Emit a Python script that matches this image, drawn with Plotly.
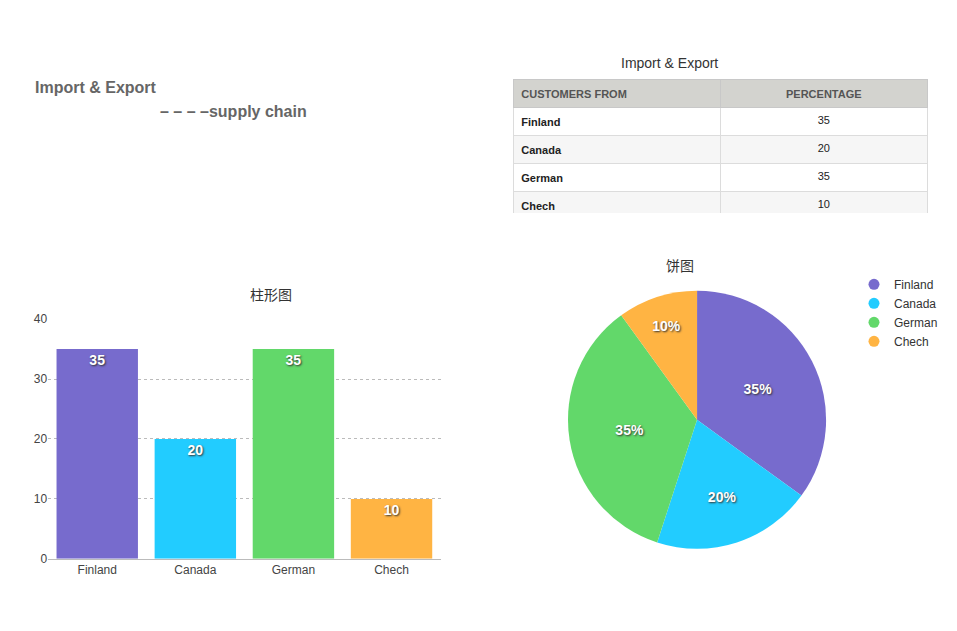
import plotly.graph_objects as go

countries = ["Finland", "Canada", "German", "Chech"]
values = [35, 20, 35, 10]
colors = ["#776bcd", "#22ccff", "#62d86a", "#ffb443"]
header = ["CUSTOMERS FROM", "PERCENTAGE"]

font = "Helvetica, Arial, Liberation Sans, Noto Sans CJK SC, sans-serif"
shadow = "1px 1px 2px #333"

fig = go.Figure()

fig.add_trace(go.Bar(
    x=countries, y=values, marker=dict(color=colors, line=dict(width=0)),
    text=values, textposition="inside", insidetextanchor="end",
    textfont=dict(color="white", size=14, family=font, weight="bold", shadow=shadow),
    width=0.83, showlegend=False, xaxis="x", yaxis="y",
))

fig.add_trace(go.Pie(
    labels=countries, values=values, marker=dict(colors=colors),
    sort=False, direction="clockwise", rotation=0, showlegend=False,
    texttemplate="%{percent:.0%}", textposition="inside",
    textfont=dict(color="white", size=14, family=font, weight="bold", shadow=shadow),
    domain=dict(x=[0.585, 0.855], y=[0.143, 0.552]),
))

# legend entries with round markers
for c, col in zip(countries, colors):
    fig.add_trace(go.Scatter(
        x=[None], y=[None], mode="markers", name=c,
        marker=dict(symbol="circle", size=11, color=col), xaxis="x2", yaxis="y2",
    ))

fig.add_trace(go.Table(
    domain=dict(x=[0.528, 0.961], y=[0.675, 0.886]),
    columnwidth=[0.5, 0.5],
    header=dict(values=["<b>%s</b>" % h for h in header], fill_color="#d3d3cf",
                font=dict(color="#555", size=11, family=font), align=["left", "center"],
                height=24, line=dict(color="#c8c8c8", width=1)),
    cells=dict(values=[["<b>%s</b>" % c for c in countries], values],
               fill_color=[["white", "#f6f6f6"] * 2],
               font=dict(color="#222", size=11, family=font), align=["left", "center"],
               height=24, line=dict(color="#dcdcdc", width=1)),
))

fig.update_layout(
    width=957, height=631, paper_bgcolor="white", plot_bgcolor="white",
    margin=dict(l=0, r=0, t=0, b=0, pad=0, autoexpand=False),
    font=dict(family=font, color="#444"),
    xaxis=dict(domain=[0.042, 0.452], showline=True, linecolor="#bbb",
               tickfont=dict(size=12, color="#444"), ticks=""),
    yaxis=dict(domain=[0.127, 0.507], range=[0, 40], dtick=10,
               gridcolor="#bbb", griddash="dot", zeroline=False,
               tickfont=dict(size=12, color="#444")),
    xaxis2=dict(domain=[0.6, 0.61], visible=False),
    yaxis2=dict(domain=[0.6, 0.61], visible=False),
    legend=dict(x=0.884, y=0.585, xanchor="left", yanchor="top", itemwidth=30,
                font=dict(size=12, color="#333"), tracegroupgap=0),
    annotations=[
        dict(text="<b>Import & Export</b>", x=25 / 957, y=1 - 80 / 631, xref="paper",
             yref="paper", xanchor="left", yanchor="middle", showarrow=False,
             font=dict(size=16, color="#666")),
        dict(text="<b>– – – –supply chain</b>", x=150 / 957, y=1 - 103 / 631, xref="paper",
             yref="paper", xanchor="left", yanchor="middle", showarrow=False,
             font=dict(size=16, color="#666")),
        dict(text="Import & Export", x=712 / 957, y=1 - 55 / 631, xref="paper",
             yref="paper", yanchor="middle", showarrow=False, font=dict(size=14, color="#333")),
        dict(text="柱形图", x=240 / 957, y=1 - 287 / 631, xref="paper",
             yref="paper", yanchor="middle", showarrow=False, font=dict(size=14, color="#333")),
        dict(text="饼图", x=688 / 957, y=1 - 258 / 631, xref="paper",
             yref="paper", yanchor="middle", showarrow=False, font=dict(size=14, color="#333")),
    ],
)

fig.write_html("out.html")
